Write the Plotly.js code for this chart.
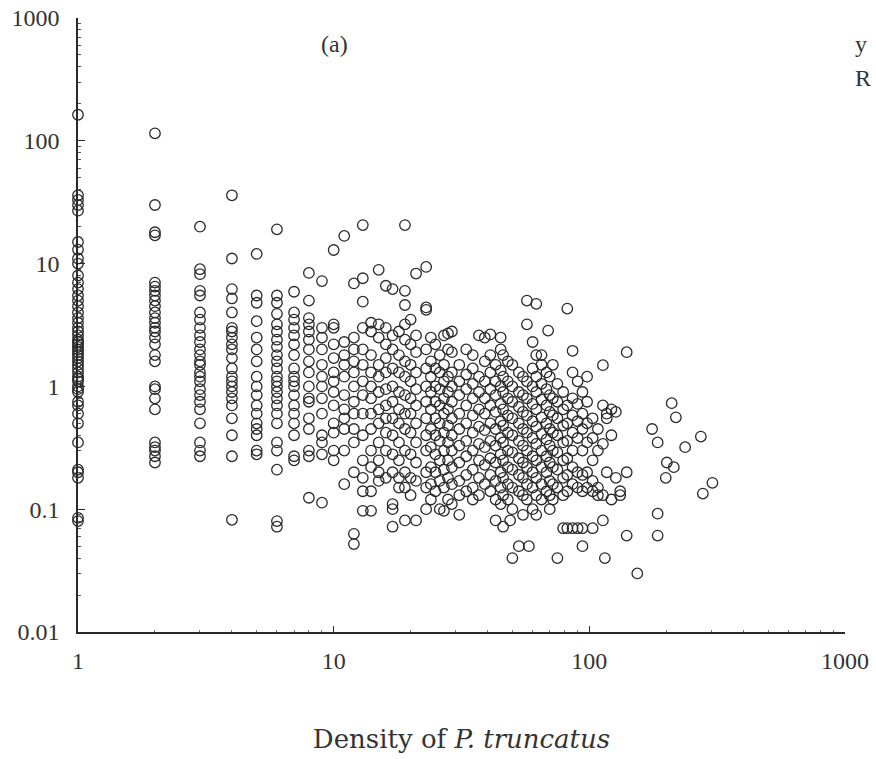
<!DOCTYPE html>
<html>
<head>
<meta charset="utf-8">
<script src="https://cdn.plot.ly/plotly-3.0.1.min.js"></script>
<style>
  html, body { margin: 0; padding: 0; background: #ffffff; }
  #chart { width: 876px; height: 759px; }
</style>
</head>
<body>
<div id="chart"></div>
<script>
// Density of P. truncatus (x) for each column of points
const densityX = [1,2,3,4,5,6,7,8,9,10,11,12,13,14,15,16,17,18,19,20,21,23,24,25,26,27,28,29,31,33,35,37,39,41,43,45,46,48,49,50,53,55,57,58,60,62,65,68,69,70,72,75,79,82,86,90,94,98,103,108,113,115,117,122,127,132,140,154,176,185,199,201,210,214,218,237,273,278,303];
// y values (ratio) observed at each density
const valuesY = [
  [163,36,33,30,27,15,13,11,10,8,7,6.2,5.5,5,4.5,4,3.6,3.3,3,2.8,2.6,2.4,2.3,2.2,2.1,2,1.9,1.8,1.7,1.6,1.5,1.4,1.3,1.2,1.15,1.1,1,0.95,0.9,0.75,0.7,0.6,0.5,0.35,0.21,0.2,0.18,0.08,0.085],
  [115,30,18,17,7,6.5,6,5.5,5,4.5,4,3.6,3.3,3,2.8,2.5,2.2,1.8,1.6,1.0,0.95,0.8,0.65,0.35,0.32,0.3,0.27,0.24],
  [20,9,8.2,6,5.5,4,3.5,3,2.6,2.3,2,1.8,1.6,1.5,1.3,1.2,1.1,0.95,0.85,0.75,0.65,0.5,0.35,0.3,0.27],
  [36,11,6.2,5.2,4,3,2.8,2.5,2.2,2,1.7,1.4,1.2,1.1,1,0.9,0.8,0.7,0.55,0.4,0.27,0.082],
  [12,5.5,4.8,3.4,2.5,2,1.6,1.2,1,0.85,0.7,0.6,0.5,0.45,0.4,0.3,0.28],
  [19,5.5,4.8,3.9,3.2,2.8,2.4,2.1,1.8,1.6,1.4,1.2,1.1,1,0.9,0.8,0.7,0.6,0.5,0.35,0.3,0.21,0.08,0.072],
  [5.9,4,3.5,3,2.6,2.2,1.8,1.4,1.2,1.1,1,0.85,0.7,0.6,0.5,0.4,0.27,0.25],
  [8.4,5,3.6,3.2,2.8,2.4,2,1.6,1.3,1,0.8,0.75,0.55,0.45,0.3,0.27,0.124],
  [7.2,3,2.5,2,1.5,1.2,1,0.8,0.6,0.4,0.35,0.28,0.113],
  [12.9,3.2,3,2.2,1.7,1.3,1.1,0.9,0.7,0.5,0.42,0.3,0.25],
  [16.8,2.3,1.8,1.5,1.2,0.85,0.65,0.55,0.45,0.3,0.16],
  [6.9,2.5,2,1.6,1.3,1,0.75,0.6,0.45,0.35,0.2,0.063,0.052],
  [20.6,7.6,4.9,3,2,1.5,1.1,0.85,0.6,0.4,0.25,0.18,0.14,0.097],
  [3.3,2.8,1.8,1.3,1,0.8,0.6,0.45,0.3,0.22,0.14,0.097],
  [8.9,3.2,2.5,1.5,1.2,0.9,0.65,0.5,0.35,0.25,0.2,0.17],
  [6.6,3,2.2,1.7,1.3,0.95,0.7,0.55,0.42,0.3,0.18],
  [6.2,2.6,2,1.4,1,0.75,0.55,0.4,0.28,0.2,0.11,0.1,0.072],
  [2.8,1.8,1.3,0.9,0.65,0.5,0.35,0.25,0.18,0.15],
  [20.6,6,4.6,3.2,2.4,1.6,1.2,0.85,0.6,0.45,0.3,0.2,0.15,0.081],
  [3.5,2.2,1.5,1.1,0.8,0.6,0.42,0.28,0.18,0.13],
  [8.3,2.6,1.9,1.3,0.95,0.7,0.5,0.35,0.24,0.17,0.081],
  [9.4,4.4,4.2,2,1.4,1,0.75,0.55,0.4,0.3,0.2,0.15,0.1],
  [2.5,1.6,1.2,0.9,0.65,0.45,0.32,0.22,0.16,0.12],
  [2.2,1.4,1,0.75,0.55,0.4,0.28,0.2,0.14],
  [1.8,1.3,0.95,0.7,0.5,0.36,0.25,0.17,0.1],
  [2.6,1.5,1.1,0.8,0.6,0.42,0.3,0.21,0.15,0.097],
  [2.7,2,1.2,0.9,0.65,0.48,0.35,0.25,0.18,0.12],
  [2.8,1.9,1.3,1,0.75,0.55,0.4,0.3,0.22,0.16,0.11],
  [1.5,1.1,0.85,0.6,0.45,0.33,0.24,0.17,0.13,0.09],
  [2,1.25,0.95,0.7,0.5,0.36,0.27,0.19,0.14],
  [1.8,1.4,1.05,0.8,0.58,0.42,0.3,0.21,0.15,0.12],
  [2.6,1.2,0.9,0.65,0.47,0.34,0.25,0.18,0.13],
  [2.5,1.6,1.1,0.8,0.6,0.44,0.32,0.23,0.16],
  [2.65,1.8,1.3,0.95,0.7,0.5,0.36,0.26,0.19,0.14],
  [1.5,1.1,0.85,0.62,0.45,0.33,0.24,0.17,0.12,0.081],
  [2.5,2,1.35,1,0.72,0.52,0.38,0.28,0.2,0.15,0.11],
  [1.8,1.2,0.9,0.65,0.48,0.35,0.25,0.18,0.13,0.072],
  [1.6,1.1,0.8,0.58,0.42,0.3,0.22,0.16,0.12],
  [0.081],
  [1.5,1,0.75,0.55,0.4,0.29,0.21,0.15,0.1,0.04],
  [1.3,0.9,0.68,0.5,0.36,0.26,0.19,0.14,0.05],
  [1.2,0.85,0.62,0.45,0.33,0.24,0.18,0.13,0.09],
  [5,3.2,1.1,0.8,0.58,0.42,0.3,0.22,0.16,0.12],
  [0.05],
  [2.3,1.4,1,0.72,0.52,0.38,0.27,0.2,0.15,0.1],
  [4.7,1.8,1.2,0.9,0.65,0.47,0.34,0.25,0.18,0.13,0.09],
  [1.8,1.5,1.05,0.78,0.56,0.41,0.3,0.22,0.16,0.12],
  [1.3,0.95,0.7,0.5,0.37,0.27,0.2,0.14],
  [2.85],
  [1.2,0.85,0.62,0.45,0.33,0.24,0.17,0.13,0.1],
  [1.5,0.8,0.58,0.42,0.3,0.22,0.16,0.12],
  [1.05,0.75,0.55,0.4,0.29,0.21,0.15,0.04],
  [0.9,0.65,0.48,0.35,0.25,0.18,0.13,0.07],
  [4.3,0.7,0.5,0.36,0.26,0.19,0.14,0.07],
  [1.95,1.3,0.8,0.58,0.42,0.3,0.22,0.16,0.07],
  [1.1,0.72,0.52,0.38,0.2,0.15,0.07],
  [0.9,0.6,0.45,0.3,0.19,0.14,0.07,0.05],
  [1.2,0.75,0.5,0.35,0.2,0.15],
  [0.55,0.38,0.25,0.17,0.14,0.07],
  [0.45,0.3,0.15,0.13],
  [1.49,0.7,0.34,0.13,0.081],
  [0.04],
  [0.6,0.55,0.2],
  [0.65,0.4,0.12],
  [0.62,0.18],
  [0.14,0.13],
  [1.9,0.2,0.061],
  [0.03],
  [0.45],
  [0.35,0.092,0.061],
  [0.18],
  [0.24],
  [0.73],
  [0.22],
  [0.56],
  [0.32],
  [0.39],
  [0.134],
  [0.164]
];
const xTickVals = [1, 10, 100, 1000];
const xTickText = ['1', '10', '100', '1000'];
const yTickVals = [0.01, 0.1, 1, 10, 100, 1000];
const yTickText = ['0.01', '0.1', '1', '10', '100', '1000'];

const xs = [], ys = [];
densityX.forEach((d, i) => {
  valuesY[i].forEach(v => { xs.push(d); ys.push(v); });
});

const minorY = [];
for (let e = -2; e < 3; e++) for (let m = 2; m <= 9; m++) minorY.push(m * Math.pow(10, e));
const minorX = [];
for (let e = 0; e < 3; e++) for (let m = 2; m <= 9; m++) minorX.push(m * Math.pow(10, e));

const fontFam = '"Liberation Serif", "DejaVu Serif", serif';
const titleFam = '"DejaVu Serif", "Liberation Serif", serif';
const ink = '#2a2a2a';

const trace = {
  x: xs, y: ys, type: 'scatter', mode: 'markers',
  marker: { symbol: 'circle-open', size: 10.5, color: ink, line: { width: 1.3, color: ink } },
  cliponaxis: false, hoverinfo: 'x+y'
};

const layout = {
  width: 876, height: 759,
  margin: { l: 78, r: 31, t: 18, b: 127 },
  paper_bgcolor: '#ffffff', plot_bgcolor: '#ffffff',
  showlegend: false,
  font: { family: fontFam, color: ink, size: 24 },
  xaxis: {
    type: 'log', range: [0, 3], autorange: false,
    showline: true, linecolor: ink, linewidth: 1.6, mirror: false,
    showgrid: false, zeroline: false,
    ticks: 'inside', ticklen: 6, tickwidth: 1, tickcolor: ink,
    tickmode: 'array', tickvals: xTickVals, ticktext: xTickText,
    tickfont: { family: fontFam, size: 24, color: '#333' },
    ticklabelstandoff: 7,
    minor: { ticks: 'inside', ticklen: 2, tickcolor: '#777', tickmode: 'array', tickvals: minorX, showgrid: false },
    title: { text: 'Density of <i>P. truncatus</i>', font: { family: titleFam, size: 26, color: '#333' }, standoff: 56 }
  },
  yaxis: {
    type: 'log', range: [-2, 3], autorange: false,
    showline: true, linecolor: ink, linewidth: 1.6,
    showgrid: false, zeroline: false,
    ticks: 'inside', ticklen: 7, tickwidth: 1, tickcolor: ink,
    tickmode: 'array', tickvals: yTickVals, ticktext: yTickText,
    tickfont: { family: fontFam, size: 24, color: '#333' },
    ticklabelstandoff: 12,
    minor: { ticks: 'inside', ticklen: 3, tickcolor: '#555', tickmode: 'array', tickvals: minorY, showgrid: false }
  },
  annotations: [
    { text: '(a)', xref: 'paper', yref: 'paper', x: 0.335, y: 0.982, showarrow: false,
      font: { family: fontFam, size: 24, color: '#333' } },
    { text: 'y', xref: 'paper', yref: 'paper', x: 1.010, y: 0.982, xanchor: 'left', showarrow: false,
      font: { family: fontFam, size: 24, color: '#333' } },
    { text: 'R', xref: 'paper', yref: 'paper', x: 1.010, y: 0.926, xanchor: 'left', showarrow: false,
      font: { family: fontFam, size: 24, color: '#333' } }
  ]
};

Plotly.newPlot('chart', [trace], layout, { staticPlot: true, displayModeBar: false });
</script>
</body>
</html>
